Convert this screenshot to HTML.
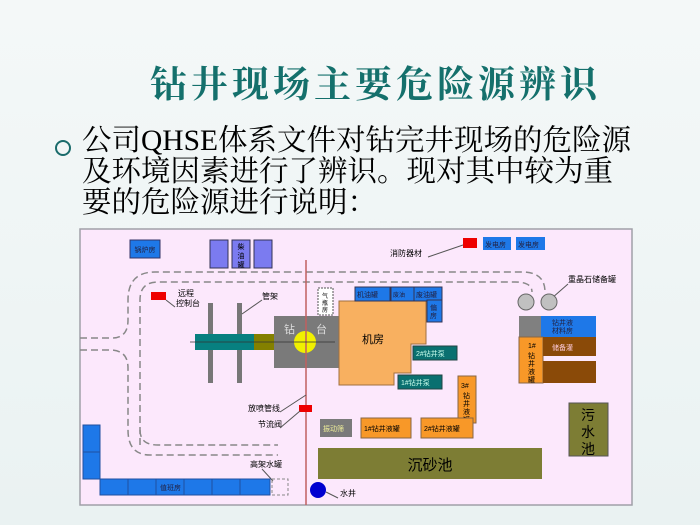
<!DOCTYPE html>
<html><head><meta charset="utf-8"><style>
body{margin:0;width:700px;height:525px;overflow:hidden;background:linear-gradient(#f4f8f8,#eaf2f2);font-family:"Liberation Serif","Noto Serif CJK SC",serif;position:relative}
.t{position:absolute;left:150px;top:54px;font-size:37px;color:#14706c;letter-spacing:4px;font-family:"Noto Serif CJK SC",serif;font-weight:bold}
.b{position:absolute;left:82px;top:126px;font-size:29.5px;line-height:31px;color:#000;width:600px;white-space:nowrap}
.bu{position:absolute;left:55px;top:140px;width:12px;height:12px;border:2px solid #1a6b6b;border-radius:50%}
svg{position:absolute;left:0;top:0}
svg text{font-family:"Liberation Sans","Noto Sans CJK SC",sans-serif}
</style></head><body>
<div class="t">钻井现场主要危险源辨识</div>
<div class="bu"></div>
<div class="b">公司QHSE体系文件对钻完井现场的危险源<br>及环境因素进行了辨识。现对其中较为重<br>要的危险源进行说明：</div>
<svg width="700" height="525" font-size="7">
<rect x="80" y="229" width="552" height="276" fill="#fce8fc" stroke="#a0a0a8" stroke-width="1.5"/>
<g fill="none" stroke="#888" stroke-width="1.5" stroke-dasharray="7,4">
<path d="M80 338 H112 Q128 338 128 320 V300 Q128 272 155 272 H522 Q545 272 545 292"/>
<path d="M80 350 H110 Q128 350 128 368 V430 Q128 455 150 455 H278"/>
<path d="M140 445 V300 Q140 282 158 282 H515 Q532 282 532 292"/>
<path d="M140 430 Q140 445 158 445 H278"/>
</g>
<rect x="130" y="240" width="30" height="18" fill="#1e78e8" stroke="#336"/><text x="145" y="252" text-anchor="middle" fill="#224">锅炉房</text>
<g fill="#7b7bf0" stroke="#335"><rect x="210" y="240" width="18" height="28"/><rect x="232" y="240" width="18" height="28"/><rect x="254" y="240" width="18" height="28"/></g>
<text x="241" y="249" text-anchor="middle">柴</text><text x="241" y="258" text-anchor="middle">油</text><text x="241" y="267" text-anchor="middle">罐</text>
<rect x="151" y="292" width="15" height="8" fill="#e00"/>
<text x="178" y="296" font-size="8">远程</text><text x="176" y="306" font-size="8">控制台</text>
<line x1="166" y1="300" x2="175" y2="307" stroke="#555"/>
<rect x="208" y="303" width="5" height="80" fill="#777"/><rect x="237" y="303" width="5" height="80" fill="#777"/>
<text x="262" y="299" font-size="8">管架</text><line x1="262" y1="300" x2="242" y2="314" stroke="#555"/>
<rect x="195" y="334" width="59" height="16" fill="#078080"/><rect x="254" y="334" width="21" height="16" fill="#848000"/>
<rect x="274" y="316" width="65" height="52" fill="#7a7a7a"/>
<circle cx="305" cy="342" r="11" fill="#f0f000"/>
<text x="284" y="333" font-size="11" fill="#ddd">钻</text><text x="316" y="333" font-size="11" fill="#ddd">台</text>
<rect x="318" y="288" width="15" height="27" fill="#fff" stroke="#555" stroke-dasharray="2,1"/><text x="325" y="298" text-anchor="middle" font-size="6">气</text><text x="325" y="305" text-anchor="middle" font-size="6">瓶</text><text x="325" y="312" text-anchor="middle" font-size="6">房</text>
<path d="M339 301 H426 V344 H411 V373 H394 V385 H339 Z" fill="#f8b060" stroke="#a07040"/>
<text x="362" y="343" font-size="11">机房</text>
<g fill="#1e78e8" stroke="#335"><rect x="355" y="287" width="35" height="14"/><rect x="391" y="287" width="23" height="14"/><rect x="414" y="287" width="28" height="14"/><rect x="427" y="300" width="15" height="22"/></g>
<text x="357" y="297" fill="#224">机油罐</text><text x="393" y="297" fill="#224" font-size="6">废油</text><text x="416" y="297" fill="#224">废油罐</text><text x="430" y="310" fill="#224">偏</text><text x="430" y="318" fill="#224">房</text>
<rect x="413" y="346" width="44" height="14" fill="#0a7070" stroke="#244"/><text x="416" y="356" fill="#cfe">2#钻井泵</text>
<rect x="398" y="375" width="44" height="14" fill="#0a7070" stroke="#244"/><text x="401" y="385" fill="#cfe">1#钻井泵</text>
<text x="390" y="256" font-size="8">消防器材</text><line x1="428" y1="257" x2="463" y2="245" stroke="#555"/>
<rect x="463" y="238" width="14" height="10" fill="#e00"/>
<rect x="483" y="237" width="28" height="13" fill="#1e78e8"/><rect x="516" y="237" width="29" height="13" fill="#1e78e8"/>
<text x="485" y="247" fill="#224">发电房</text><text x="518" y="247" fill="#224">发电房</text>
<text x="568" y="282" font-size="8">重晶石储备罐</text><line x1="568" y1="284" x2="552" y2="298" stroke="#555"/>
<circle cx="526" cy="302" r="8" fill="#c0c0c0" stroke="#666"/><circle cx="549" cy="302" r="8" fill="#c0c0c0" stroke="#666"/>
<rect x="519" y="316" width="22" height="21" fill="#808080"/><rect x="541" y="316" width="55" height="21" fill="#1e78e8"/>
<text x="552" y="325" fill="#224">钻井液</text><text x="552" y="333" fill="#224">材料房</text>
<rect x="519" y="337" width="24" height="46" fill="#f89828" stroke="#864"/>
<text x="528" y="348">1#</text><text x="528" y="358">钻</text><text x="528" y="366">井</text><text x="528" y="374">液</text><text x="528" y="382">罐</text>
<rect x="543" y="337" width="53" height="19" fill="#8a4a08"/><text x="552" y="350" fill="#fcd">储备灌</text>
<rect x="543" y="361" width="53" height="22" fill="#8a4a08"/>
<rect x="458" y="376" width="18" height="47" fill="#f89828" stroke="#864"/>
<text x="461" y="388">3#</text><text x="463" y="398">钻</text><text x="463" y="406">井</text><text x="463" y="414">液</text><text x="463" y="422">罐</text>
<rect x="569" y="403" width="39" height="53" fill="#7d7d34" stroke="#555"/>
<text x="588" y="420" text-anchor="middle" font-size="14">污</text><text x="588" y="437" text-anchor="middle" font-size="14">水</text><text x="588" y="454" text-anchor="middle" font-size="14">池</text>
<rect x="320" y="419" width="32" height="18" fill="#7a7a7a"/><text x="323" y="431" fill="#ee9">振动筛</text>
<rect x="361" y="418" width="50" height="20" fill="#f89828" stroke="#864"/><text x="364" y="431">1#钻井液罐</text>
<rect x="421" y="418" width="52" height="20" fill="#f89828" stroke="#864"/><text x="424" y="431">2#钻井液罐</text>
<rect x="318" y="448" width="224" height="31" fill="#7d7d34"/><text x="430" y="470" text-anchor="middle" font-size="15">沉砂池</text>
<line x1="306" y1="260" x2="306" y2="505" stroke="#c06060" stroke-width="1.5"/>
<line x1="190" y1="342" x2="335" y2="342" stroke="#333" stroke-width="0.8"/>
<rect x="299" y="405" width="13" height="7" fill="#e00"/>
<text x="248" y="411" font-size="8">放喷管线</text><line x1="280" y1="412" x2="306" y2="395" stroke="#555"/>
<text x="258" y="427" font-size="8">节流阀</text><line x1="280" y1="428" x2="300" y2="411" stroke="#555"/>
<text x="250" y="467" font-size="8">高架水罐</text><line x1="262" y1="469" x2="273" y2="481" stroke="#555"/>
<rect x="272" y="479" width="16" height="16" fill="none" stroke="#888" stroke-dasharray="3,2"/>
<g fill="#1e78e8" stroke="#2050a0"><rect x="83" y="425" width="17" height="27"/><rect x="83" y="452" width="17" height="27"/>
<rect x="100" y="479" width="28" height="16"/><rect x="128" y="479" width="28" height="16"/><rect x="156" y="479" width="28" height="16"/><rect x="184" y="479" width="28" height="16"/><rect x="212" y="479" width="28" height="16"/><rect x="240" y="479" width="30" height="16"/></g>
<text x="160" y="490" fill="#224">值班房</text>
<circle cx="318" cy="490" r="8" fill="#0000d0"/><line x1="326" y1="492" x2="338" y2="498" stroke="#555"/><text x="340" y="496" font-size="8">水井</text>
</svg>
</body></html>
